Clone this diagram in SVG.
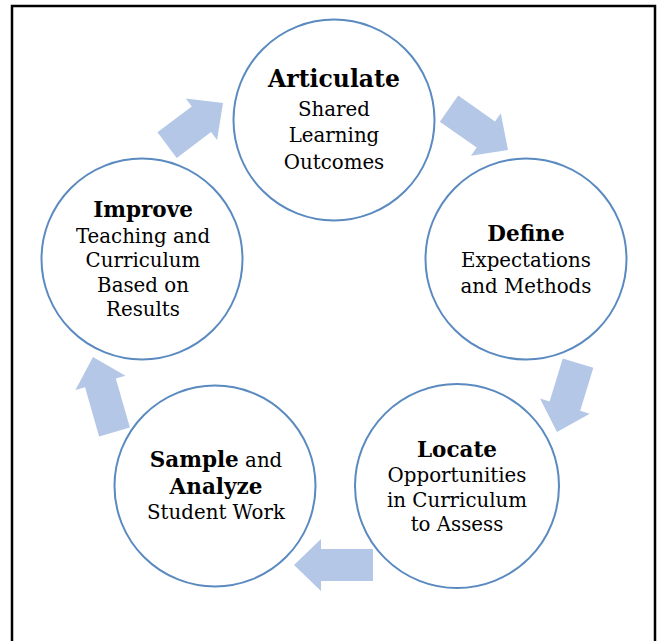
<svg xmlns="http://www.w3.org/2000/svg" width="659" height="641" viewBox="0 0 659 641">
<style>
.node circle{fill:#fff;stroke:#5A8AC0;stroke-width:2}
.arrow{fill:#B4C7E7}
text{font-family:"DejaVu Serif","Liberation Serif",serif;font-size:19.8px;fill:#000;text-anchor:middle}
.b{font-weight:bold;font-size:21.5px}
.big{font-size:23.5px}
</style>
<rect x="0" y="0" width="659" height="641" fill="#fff"/>
<rect x="12" y="6" width="643" height="660" fill="none" stroke="#000" stroke-width="2.5"/>
<g id="connectors">
<path class="arrow" transform="translate(223,103) rotate(-37)" d="M-70,-16 H-27 V-26 L0,0 L-27,26 V16 H-70 Z"/>
<path class="arrow" transform="translate(508,150) rotate(35)" d="M-72,-16 H-27 V-26 L0,0 L-27,26 V16 H-72 Z"/>
<path class="arrow" transform="translate(557,432) rotate(107)" d="M-72,-16 H-27 V-26 L0,0 L-27,26 V16 H-72 Z"/>
<path class="arrow" transform="translate(294,565) rotate(180)" d="M-79,-16 H-27 V-26 L0,0 L-27,26 V16 H-79 Z"/>
<path class="arrow" transform="translate(93,357) rotate(-106)" d="M-78,-16 H-27 V-26 L0,0 L-27,26 V16 H-78 Z"/>
</g>
<g id="articulate" class="node">
<circle cx="334" cy="120" r="100.5"/>
<text x="334" y="87" class="b big">Articulate</text>
<text x="334" y="116">Shared</text>
<text x="334" y="142">Learning</text>
<text x="334" y="169">Outcomes</text>
</g>
<g id="define" class="node">
<circle cx="526" cy="259" r="100.5"/>
<text x="526" y="241" class="b">Define</text>
<text x="526" y="267">Expectations</text>
<text x="526" y="293">and Methods</text>
</g>
<g id="locate" class="node">
<circle cx="457" cy="486" r="102"/>
<text x="457" y="457" class="b">Locate</text>
<text x="457" y="482">Opportunities</text>
<text x="457" y="507">in Curriculum</text>
<text x="457" y="531">to Assess</text>
</g>
<g id="sample" class="node">
<circle cx="215" cy="486" r="100.5"/>
<text x="216" y="467"><tspan class="b">Sample</tspan> and</text>
<text x="216" y="494" class="b">Analyze</text>
<text x="216" y="519">Student Work</text>
</g>
<g id="improve" class="node">
<circle cx="142" cy="259" r="100.5"/>
<text x="143" y="217" class="b">Improve</text>
<text x="143" y="243">Teaching and</text>
<text x="143" y="267">Curriculum</text>
<text x="143" y="292">Based on</text>
<text x="143" y="316">Results</text>
</g>
</svg>
